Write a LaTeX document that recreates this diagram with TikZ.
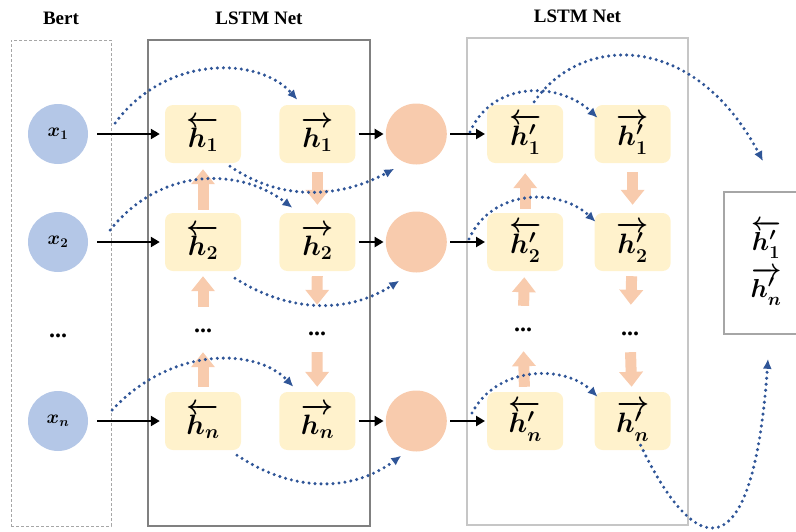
\RequirePackage{fix-cm}
\documentclass[tikz,border=0pt]{standalone}
\usepackage{amsmath}
\usepackage{bm}
\usepackage{fontspec}
\setmainfont{Liberation Serif}
\usetikzlibrary{positioning,calc,arrows.meta}

\definecolor{tokenblue}{HTML}{B4C7E7}
\definecolor{cellyellow}{HTML}{FFF2CC}
\definecolor{mergeorange}{HTML}{F8CBAD}
\definecolor{linkblue}{HTML}{2F5597}

\tikzset{
  frame/.style={rectangle, inner sep=0pt, line width=1.4pt},
  title/.style={font=\fontsize{19}{22}\selectfont\bfseries},
  token/.style={circle, fill=tokenblue, minimum size=60pt, inner sep=0pt, font=\fontsize{19}{19}\selectfont},
  cell/.style={rectangle, rounded corners=8pt, fill=cellyellow, minimum width=76pt, minimum height=58pt, inner sep=0pt, font=\fontsize{28}{28}\selectfont},
  merge/.style={circle, fill=mergeorange, minimum size=61pt, inner sep=0pt},
  ellip/.style={inner sep=0pt, minimum height=12pt, font=\fontsize{24}{24}\selectfont\bfseries},
  feedarrow/.style={line width=2.4pt, shorten <=3pt, shorten >=2pt, -{Triangle[length=9pt,width=10pt]}},
  cellflow/.style={line width=11pt, draw=mergeorange, -{Triangle[length=15pt,width=23pt]}},
  dotlink/.style={linkblue, line width=3.4pt, line cap=round, dash pattern=on 0pt off 6pt, -{Latex[length=10pt,width=9pt]}}
}

\begin{document}
\begin{tikzpicture}[x=1pt,y=-1pt]
\useasboundingbox (0,0) rectangle (796,531);
\clip (0,0) rectangle (796,531);

\node (bert) [frame, draw=gray!70, line width=0.8pt, dash pattern=on 3pt off 2pt, minimum width=100pt, minimum height=486pt] at (61,283) {};
\node (lstma) [frame, draw=gray, minimum width=222pt, minimum height=486pt] at (259,283) {};
\node (lstmb) [frame, draw=gray!45, minimum width=221pt, minimum height=487pt] at (577.5,281.5) {};
\node (bertname) [title, above=11pt of bert] {Bert};
\node (lstmaname) [title, above=11pt of lstma] {LSTM Net};
\node (lstmbname) [title, above=11pt of lstmb] {LSTM Net};

\node (x1) [token] at (58,134) {$\bm{x_1}$};
\node (x2) [token] at (58,242) {$\bm{x_2}$};
\node (xd) [ellip] at (58,336) {...};
\node (xn) [token] at (58,421) {$\bm{x_n}$};

\node (hb1) [cell] at (203,134) {$\bm{\overleftarrow{h_1}}$};
\node (hf1) [cell, right=38pt of hb1] {$\bm{\overrightarrow{h_1}}$};
\node (oc1) [merge, right=30pt of hf1] {};
\node (gb1) [cell, right=40pt of oc1] {$\bm{\overleftarrow{h'_1}}$};
\node (gf1) [cell, right=31pt of gb1] {$\bm{\overrightarrow{h'_1}}$};

\node (hb2) [cell] at (203,242) {$\bm{\overleftarrow{h_2}}$};
\node (hf2) [cell, right=38pt of hb2] {$\bm{\overrightarrow{h_2}}$};
\node (oc2) [merge, right=30pt of hf2] {};
\node (gb2) [cell, right=40pt of oc2] {$\bm{\overleftarrow{h'_2}}$};
\node (gf2) [cell, right=31pt of gb2] {$\bm{\overrightarrow{h'_2}}$};

\node (hbd) [ellip] at (203,331) {...};
\node (hfd) [ellip] at (317,334) {...};
\node (gbd) [ellip] at (523,330) {...};
\node (gfd) [ellip] at (630,334) {...};

\node (hbn) [cell] at (203,421) {$\bm{\overleftarrow{h_n}}$};
\node (hfn) [cell, right=38pt of hbn] {$\bm{\overrightarrow{h_n}}$};
\node (ocn) [merge, right=30pt of hfn] {};
\node (gbn) [cell, right=40pt of ocn] {$\bm{\overleftarrow{h'_n}}$};
\node (gfn) [cell, right=31pt of gbn] {$\bm{\overrightarrow{h'_n}}$};

\node (out) [frame, draw=gray!70, line width=1.6pt, minimum width=84pt, minimum height=142pt, align=center, font=\fontsize{26}{47}\selectfont] at (766,263) {$\bm{\overleftarrow{h'_1}}$\\$\bm{\overrightarrow{h'_n}}$};

\draw[feedarrow, shorten <=9pt, shorten >=5pt] (x1) -- (hb1);
\draw[feedarrow, shorten <=9pt, shorten >=5pt] (x2) -- (hb2);
\draw[feedarrow, shorten <=9pt, shorten >=5pt] (xn) -- (hbn);
\draw[feedarrow] (hf1) -- (oc1);
\draw[feedarrow] (hf2) -- (oc2);
\draw[feedarrow] (hfn) -- (ocn);
\draw[feedarrow] (oc1) -- (gb1);
\draw[feedarrow] (oc2) -- (gb2);
\draw[feedarrow] (ocn) -- (gbn);

\draw[cellflow, shorten <=3pt, shorten >=6pt] (hb2) -- (hb1);
\draw[cellflow, shorten <=18pt, shorten >=5pt] (hbd) -- (hb2);
\draw[cellflow, shorten <=5pt, shorten >=15pt] (hbn) -- (hbd);
\draw[cellflow, shorten <=9pt, shorten >=8pt] (hf1) -- (hf2);
\draw[cellflow, shorten <=5pt, shorten >=23pt] (hf2) -- (hfd);
\draw[cellflow, shorten <=12pt, shorten >=5pt] (hfd) -- (hfn);
\draw[cellflow, shorten <=4pt, shorten >=10pt] (gb2) -- (gb1);
\draw[cellflow, shorten <=18pt, shorten >=6pt] (gbd) -- (gb2);
\draw[cellflow, shorten <=5pt, shorten >=15pt] (gbn) -- (gbd);
\draw[cellflow, shorten <=9pt, shorten >=8pt] (gf1) -- (gf2);
\draw[cellflow, shorten <=5pt, shorten >=23pt] (gf2) -- (gfd);
\draw[cellflow, shorten <=12pt, shorten >=5pt] (gfd) -- (gfn);

\draw[dotlink] ($(x1.east)+(27,-11)$) .. controls +(50,-68) and +(-39,-44) .. ($(hf1.north)+(-20,-5)$);
\draw[dotlink] ($(x2.east)+(22,-12)$) .. controls +(50,-63) and +(-53,-41) .. ($(hf2.north)+(-25,-5)$);
\draw[dotlink] ($(xn.east)+(24,-11)$) .. controls +(58,-63) and +(-38,-40) .. ($(hfn.north)+(-24,-5)$);
\draw[dotlink] ($(hb1.south)+(27,3)$) .. controls +(50,35) and +(-55,30) .. ($(oc1.south)+(-22,4)$);
\draw[dotlink] ($(hb2.south)+(32,7)$) .. controls +(55,35) and +(-51,33) .. ($(oc2.south)+(-17,8)$);
\draw[dotlink] ($(hbn.south)+(34,5)$) .. controls +(55,37) and +(-50,37) .. ($(ocn.south)+(-15,4)$);
\draw[dotlink] ($(oc1.east)+(23,-2)$) .. controls +(22,-51) and +(-39,-37) .. ($(gf1.north)+(-35,13)$);
\draw[dotlink] ($(oc2.east)+(22,-3)$) .. controls +(23,-51) and +(-36,-34) .. ($(gf2.north)+(-37,9)$);
\draw[dotlink] ($(ocn.east)+(25,-8)$) .. controls +(25,-48) and +(-32,-32) .. ($(gfn.north)+(-35,5)$);
\draw[dotlink] ($(gb1.north)+(9,-3)$) .. controls +(48,-69) and +(-68,-129) .. ($(out.north)+(-3,-30)$);
\draw[dotlink] ($(gfn.south)+(8,-5)$) .. controls +(55,115) and +(-15,215) .. ($(out.south)+(2,24)$);
\end{tikzpicture}
\end{document}
